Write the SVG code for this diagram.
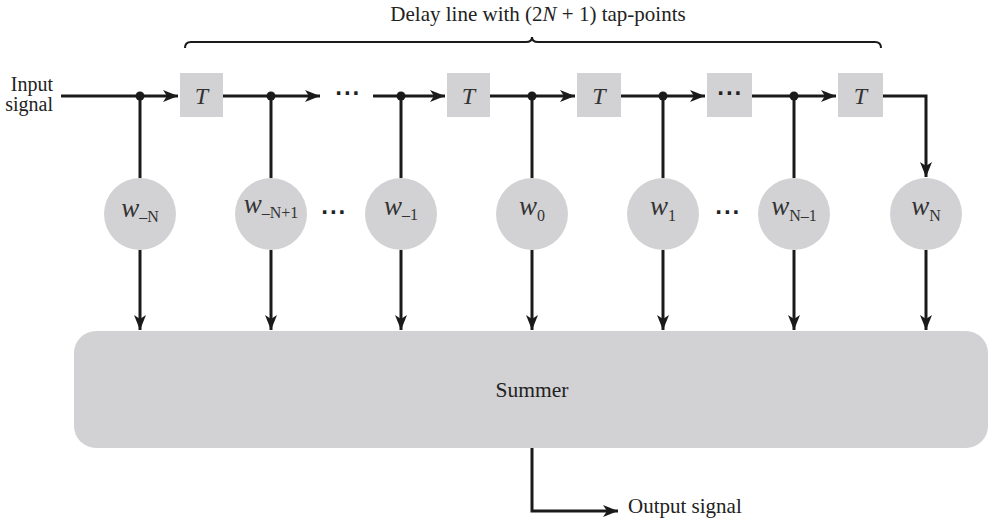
<svg xmlns="http://www.w3.org/2000/svg" width="989" height="518" viewBox="0 0 989 518">
  <style>
    .txt { font-family: "Liberation Serif", "Times New Roman", serif; fill: #222; }
    .lbl { font-size: 21px; }
    .var { font-family: "Liberation Serif", "Times New Roman", serif; font-style: italic; fill: #333; font-size: 27px; }
    .tv { font-size: 24px; }
    .sub { font-style: normal; font-size: 16px; }
    .dots { font-family: "DejaVu Sans", sans-serif; font-size: 19px; font-weight: bold; fill: #222; letter-spacing: 1.5px; }
    .box { fill: #d2d2d4; }
    .wire { stroke: #1a1a1a; stroke-width: 3; fill: none; }
    .brace { stroke: #1a1a1a; stroke-width: 2; fill: none; }
    .dot { fill: #1a1a1a; }
  </style>
  <defs>
    <marker id="arrow" markerUnits="userSpaceOnUse" markerWidth="16" markerHeight="12" refX="15" refY="6" orient="auto">
      <path d="M0,0 L15,6 L0,12 L4,6 Z" fill="#1a1a1a"/>
    </marker>
  </defs>
  <rect width="989" height="518" fill="#ffffff"/>

  <!-- delay line brace and caption -->
  <g id="brace">
    <path class="brace" d="M185,48 Q185,42 191,42 L526,42 Q532,42 532,37 Q532,42 538,42 L875,42 Q881,42 881,48"/>
    <text class="txt lbl" x="538" y="21" text-anchor="middle" font-size="22">Delay line with (2<tspan font-style="italic">N</tspan> + 1) tap-points</text>
  </g>

  <!-- input label -->
  <g id="input">
    <text class="txt" font-size="20" x="53" y="91" text-anchor="end">Input</text>
    <text class="txt" font-size="20" x="53" y="111" text-anchor="end">signal</text>
  </g>

  <!-- delay elements -->
  <g id="delay1"><rect class="box" x="180" y="73" width="43" height="44"/><text class="var tv" x="201.5" y="104" text-anchor="middle">T</text></g>
  <g id="delay2"><rect class="box" x="447" y="73" width="43" height="44"/><text class="var tv" x="468.5" y="104" text-anchor="middle">T</text></g>
  <g id="delay3"><rect class="box" x="577" y="73" width="44" height="44"/><text class="var tv" x="599" y="104" text-anchor="middle">T</text></g>
  <g id="delay-dots"><rect class="box" x="707" y="73" width="45" height="44"/><text class="dots" x="730" y="100" text-anchor="middle">···</text></g>
  <g id="delay4"><rect class="box" x="838" y="73" width="45" height="44"/><text class="var tv" x="860.5" y="104" text-anchor="middle">T</text></g>
  <g id="line-dots"><text class="dots" x="348" y="100" text-anchor="middle">···</text></g>

  <!-- tap weights -->
  <g id="w-N"><circle class="box" cx="140" cy="214" r="36"/><text class="var" x="140" y="217" text-anchor="middle">w<tspan class="sub" dy="5">–N</tspan></text></g>
  <g id="w-N1"><circle class="box" cx="271" cy="214" r="36"/><text class="var" x="271" y="213" text-anchor="middle">w<tspan class="sub" dy="5">–N+1</tspan></text></g>
  <g id="w-1"><circle class="box" cx="401" cy="214" r="36"/><text class="var" x="401" y="215" text-anchor="middle">w<tspan class="sub" dy="5">–1</tspan></text></g>
  <g id="w0"><circle class="box" cx="532" cy="214" r="36"/><text class="var" x="532" y="215" text-anchor="middle">w<tspan class="sub" dy="6">0</tspan></text></g>
  <g id="w1"><circle class="box" cx="663" cy="214" r="36"/><text class="var" x="663" y="215" text-anchor="middle">w<tspan class="sub" dy="6">1</tspan></text></g>
  <g id="wN1"><circle class="box" cx="794" cy="214" r="36"/><text class="var" x="794" y="215" text-anchor="middle">w<tspan class="sub" dy="6" font-style="italic">N</tspan><tspan class="sub">–1</tspan></text></g>
  <g id="wN"><circle class="box" cx="926" cy="214" r="36"/><text class="var" x="926" y="215" text-anchor="middle">w<tspan class="sub" dy="6" font-style="italic">N</tspan></text></g>
  <g id="weight-dots">
    <text class="dots" x="334" y="219" text-anchor="middle">···</text>
    <text class="dots" x="728" y="219" text-anchor="middle">···</text>
  </g>

  <!-- summer -->
  <g id="summer">
    <rect class="box" x="74" y="331" width="914" height="117" rx="22" ry="22"/>
    <text class="txt" font-size="21.5" x="532" y="397" text-anchor="middle">Summer</text>
  </g>

  <!-- output label -->
  <g id="output"><text class="txt" font-size="21" x="628" y="513">Output signal</text></g>

  <!-- connectors -->
  <g id="connectors">
    <!-- main delay line -->
    <path class="wire" d="M61,96 L178,96" marker-end="url(#arrow)"/>
    <path class="wire" d="M223,96 L320,96" marker-end="url(#arrow)"/>
    <path class="wire" d="M373,96 L445,96" marker-end="url(#arrow)"/>
    <path class="wire" d="M490,96 L575,96" marker-end="url(#arrow)"/>
    <path class="wire" d="M621,96 L705,96" marker-end="url(#arrow)"/>
    <path class="wire" d="M752,96 L836,96" marker-end="url(#arrow)"/>
    <path class="wire" d="M883,96 L926,96 L926,177" marker-end="url(#arrow)"/>
    <!-- taps to weights -->
    <path class="wire" d="M140,96 L140,178"/>
    <path class="wire" d="M271,96 L271,178"/>
    <path class="wire" d="M401,96 L401,178"/>
    <path class="wire" d="M532,96 L532,178"/>
    <path class="wire" d="M663,96 L663,178"/>
    <path class="wire" d="M794,96 L794,178"/>
    <circle class="dot" cx="140" cy="96" r="4.5"/>
    <circle class="dot" cx="271" cy="96" r="4.5"/>
    <circle class="dot" cx="401" cy="96" r="4.5"/>
    <circle class="dot" cx="532" cy="96" r="4.5"/>
    <circle class="dot" cx="663" cy="96" r="4.5"/>
    <circle class="dot" cx="794" cy="96" r="4.5"/>
    <!-- weights to summer -->
    <path class="wire" d="M140,250 L140,330" marker-end="url(#arrow)"/>
    <path class="wire" d="M271,250 L271,330" marker-end="url(#arrow)"/>
    <path class="wire" d="M401,250 L401,330" marker-end="url(#arrow)"/>
    <path class="wire" d="M532,250 L532,330" marker-end="url(#arrow)"/>
    <path class="wire" d="M663,250 L663,330" marker-end="url(#arrow)"/>
    <path class="wire" d="M794,250 L794,330" marker-end="url(#arrow)"/>
    <path class="wire" d="M926,250 L926,330" marker-end="url(#arrow)"/>
    <!-- output -->
    <path class="wire" d="M532,448 L532,511 L618,511" marker-end="url(#arrow)"/>
  </g>
</svg>
